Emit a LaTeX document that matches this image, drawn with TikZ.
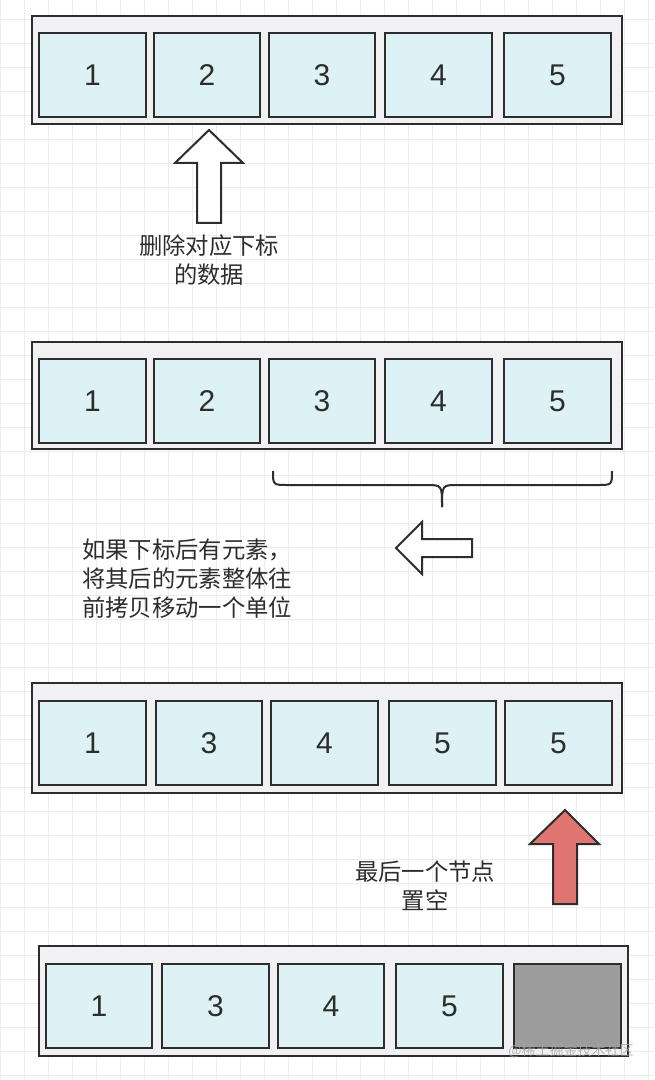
\documentclass[tikz,border=0pt]{standalone}
\usepackage{fontspec}
\newfontfamily\cjkfont{Noto Sans CJK SC}
\newfontfamily\numfont{Liberation Sans}

\definecolor{cellfill}{RGB}{221,242,244}
\definecolor{barfill}{RGB}{241,241,243}
\definecolor{ink}{RGB}{45,45,45}
\definecolor{gridgray}{RGB}{236,236,236}
\definecolor{emptyfill}{RGB}{156,156,156}
\definecolor{redarrow}{RGB}{224,116,112}

\tikzset{
  cell/.style={draw=ink, line width=1.5pt, fill=cellfill, minimum width=80pt,
    minimum height=63pt, inner sep=0pt, text=ink,
    font=\numfont\fontsize{22.5}{26}\selectfont},
  bar/.style={draw=ink, line width=1.5pt, fill=barfill},
  blockarrow/.style={draw=ink, line width=1.5pt, line join=miter, fill=white},
  note/.style={font=\cjkfont\fontsize{17.5}{21.75}\selectfont, text=ink, inner sep=0pt},
  gridline/.style={draw=gridgray, line width=0.7pt},
}

\begin{document}
\begin{tikzpicture}[x=0.75pt, y=-0.75pt]
	\useasboundingbox (0,0) rectangle (654,1080);
	\fill[white] (0,0) rectangle (654,1080);
	% background grid
	\foreach \gx in {0,24,...,648} \draw[gridline] (\gx,0) -- (\gx,1080);
	\foreach \gy in {19,43,...,1075} \draw[gridline] (0,\gy) -- (654,\gy);

	% row 1
	\draw[bar] (32,16) rectangle (622,124);
	\node[cell] (a1) at (92.5,75) {1};
	\node[cell] (a2) at (207,75) {2};
	\node[cell] (a3) at (322,75) {3};
	\node[cell] (a4) at (438.5,75) {4};
	\node[cell] (a5) at (557.5,75) {5};
	\draw[blockarrow] (209,130) -- (243,163) -- (221,163) -- (221,223) -- (197,223) -- (197,163) -- (175,163) -- cycle;
	\node[note, align=center] (delnote) at (209,260) {删除对应下标\\的数据};

	% row 2
	\draw[bar] (32,342) rectangle (622,449);
	\node[cell] (b1) at (92.5,401) {1};
	\node[cell] (b2) at (207,401) {2};
	\node[cell] (b3) at (322,401) {3};
	\node[cell] (b4) at (438.5,401) {4};
	\node[cell] (b5) at (557.5,401) {5};
	\draw[ink, line width=1.5pt] (273,471) .. controls (273,485) .. (288,485) -- (426,485) .. controls (442,485) .. (442,507);
	\draw[ink, line width=1.5pt] (612,471) .. controls (612,485) .. (597,485) -- (458,485) .. controls (442,485) .. (442,507);
	\draw[blockarrow] (396,548) -- (422,522) -- (422,539) -- (472,539) -- (472,557) -- (422,557) -- (422,574) -- cycle;
	\node[note, align=left, anchor=west] (shiftnote) at (82,579) {如果下标后有元素，\\将其后的元素整体往\\前拷贝移动一个单位};

	% row 3
	\draw[bar] (32,683) rectangle (622,793);
	\node[cell] (c1) at (92.5,743) {1};
	\node[cell] (c2) at (209,743) {3};
	\node[cell] (c3) at (324.5,743) {4};
	\node[cell] (c4) at (442.5,743) {5};
	\node[cell] (c5) at (558.5,743) {5};
	\draw[blockarrow, fill=redarrow] (565,810) -- (599,844) -- (577,844) -- (577,904) -- (553,904) -- (553,844) -- (530,844) -- cycle;
	\node[note, align=center] (nullnote) at (425,886) {最后一个节点\\置空};

	% row 4
	\draw[bar] (39,946) rectangle (628,1056);
	\node[cell] (d1) at (99,1006) {1};
	\node[cell] (d2) at (215.5,1006) {3};
	\node[cell] (d3) at (331,1006) {4};
	\node[cell] (d4) at (449.5,1006) {5};
	\node[cell, fill=emptyfill] (d5) at (567.5,1006) {};
	\node[font=\cjkfont\fontsize{10.5}{12}\selectfont, text=gray!70, opacity=0.8] (mark) at (571,1051) {@稀土掘金技术社区};
\end{tikzpicture}
\end{document}
